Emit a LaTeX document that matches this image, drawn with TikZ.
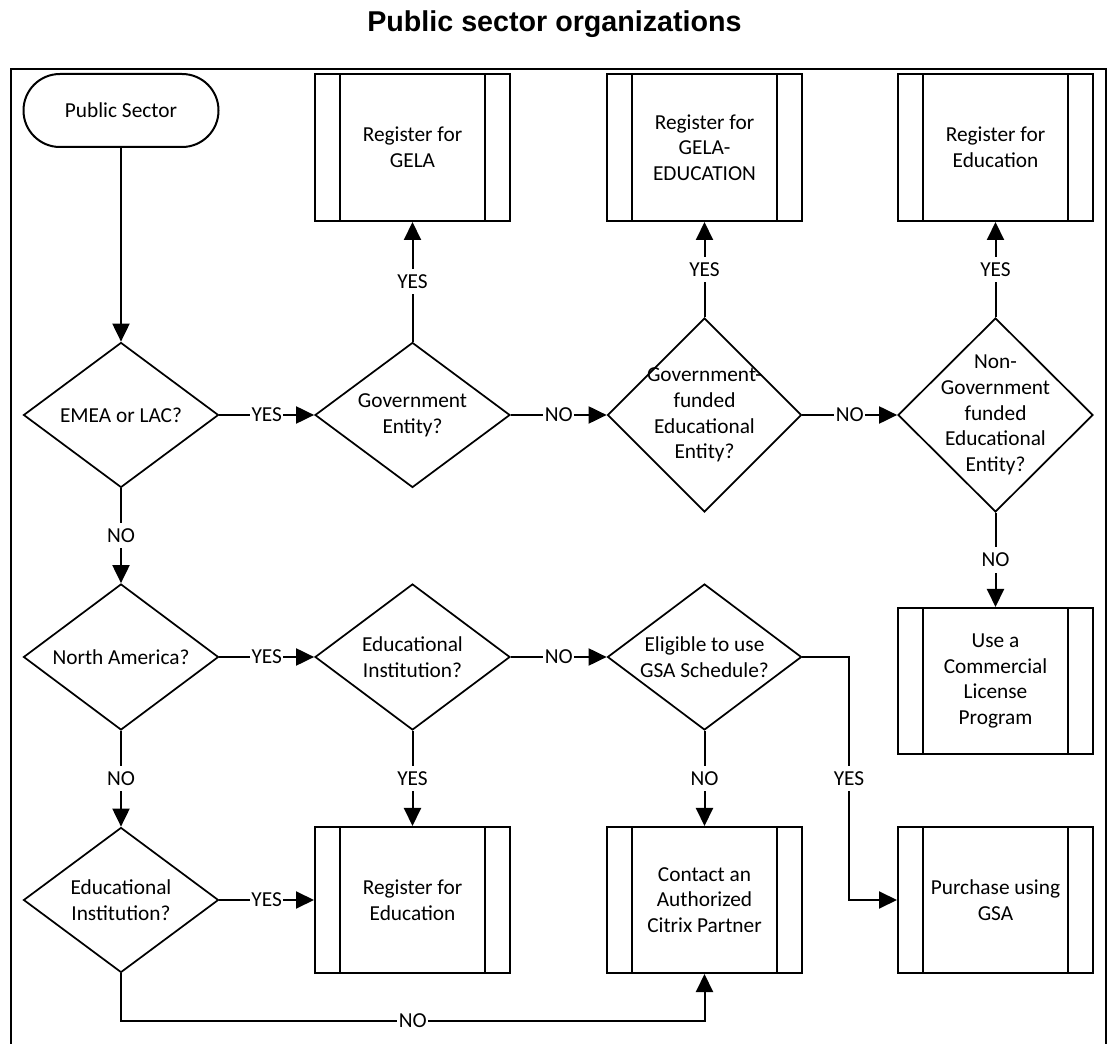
\documentclass[tikz,border=0pt]{standalone}
\usepackage{fontspec}
\setmainfont{Carlito}
\newfontfamily\titlefont{Liberation Sans}
\usetikzlibrary{shapes.geometric,arrows.meta}
\tikzset{
  procbox/.style={draw=black, line width=1.5pt, fill=white, rectangle,
    minimum width=146.25pt, minimum height=110.25pt, inner sep=0pt, align=center,
    path picture={
      \draw[line width=1.5pt]
        ([xshift=18.75pt]path picture bounding box.north west) -- ([xshift=18.75pt]path picture bounding box.south west)
        ([xshift=-18.75pt]path picture bounding box.north east) -- ([xshift=-18.75pt]path picture bounding box.south east);
    }},
  termbox/.style={draw=black, line width=1.5pt, fill=white, rectangle,
    minimum width=146.25pt, minimum height=54.75pt, rounded corners=27.3pt, inner sep=0pt, align=center},
  decbox/.style={draw=black, line width=1.3pt, fill=white, diamond, inner sep=0pt,
    minimum width=146.25pt, minimum height=108.75pt},
  dtext/.style={align=center, inner sep=0pt},
  conn/.style={line width=1.5pt, -{Triangle[length=13.5pt,width=12.75pt]}},
  lab/.style={fill=white, inner xsep=1pt, inner ysep=0pt, minimum height=19pt}
}
\begin{document}
\begin{tikzpicture}[x=0.75pt,y=-0.75pt, font=\fontsize{16}{19.3}\selectfont]
\useasboundingbox (0,0) rectangle (1108,1044);
\fill[white] (0,0) rectangle (1108,1044);

% title
\node[font=\titlefont\bfseries\fontsize{21.5}{26}\selectfont, anchor=base] (title) at (554.5,32) {Public sector organizations};

% frame
\draw[line width=1.5pt] (11,1047) -- (11,69) -- (1106,69) -- (1106,1047);

% row 1
\node[termbox] (ps) at (121,110.5) {Public Sector};
\node[procbox] (gela) at (412.5,147.5) {Register for\\GELA};
\node[procbox] (gelaedu) at (704.5,147.5) {Register for\\GELA-\\EDUCATION};
\node[procbox] (regeduA) at (995.5,147.5) {Register for\\Education};

% row 2
\node[decbox, label={[dtext]center:EMEA or LAC?}] (emea) at (121,415) {};
\node[decbox, label={[dtext]center:Government\\Entity?}] (gov) at (412.5,415) {};
\node[decbox, minimum width=145.5pt, minimum height=145.5pt,
  label={[dtext]center:Government-\\funded\\Educational\\Entity?}] (govf) at (704.5,415) {};
\node[decbox, minimum height=145.5pt,
  label={[dtext]center:Non-\\Government\\funded\\Educational\\Entity?}] (nongov) at (995.5,415) {};

% row 3
\node[decbox, minimum height=109.5pt, label={[dtext]center:North America?}] (na) at (121,657) {};
\node[decbox, minimum height=109.5pt, label={[dtext]center:Educational\\Institution?}] (eduinst) at (412.5,657) {};
\node[decbox, minimum width=145.5pt, minimum height=109.5pt, label={[dtext]center:Eligible to use\\GSA Schedule?}] (elig) at (704.5,657) {};
\node[procbox, minimum height=109.5pt] (comm) at (995.5,681) {Use a\\Commercial\\License\\Program};

% row 4
\node[decbox, label={[dtext]center:Educational\\Institution?}] (ei) at (121,900) {};
\node[procbox, minimum height=109.5pt] (regeduB) at (412.5,900) {Register for\\Education};
\node[procbox, minimum height=109.5pt] (contact) at (704.5,900) {Contact an\\Authorized\\Citrix Partner};
\node[procbox, minimum height=109.5pt] (purchase) at (995.5,900) {Purchase using\\GSA};

% connectors
\draw[conn] (ps.south) -- (emea.north);
\draw[conn] (emea.east) -- node[lab]{YES} (gov.west);
\draw[conn] (gov.north) -- node[lab]{YES} (gela.south);
\draw[conn] (gov.east) -- node[lab]{NO} (govf.west);
\draw[conn] (govf.north) -- node[lab]{YES} (gelaedu.south);
\draw[conn] (govf.east) -- node[lab]{NO} (nongov.west);
\draw[conn] (nongov.north) -- node[lab]{YES} (regeduA.south);
\draw[conn] (nongov.south) -- node[lab]{NO} (comm.north);
\draw[conn] (emea.south) -- node[lab]{NO} (na.north);
\draw[conn] (na.east) -- node[lab]{YES} (eduinst.west);
\draw[conn] (eduinst.east) -- node[lab]{NO} (elig.west);
\draw[conn] (eduinst.south) -- node[lab]{YES} (regeduB.north);
\draw[conn] (elig.south) -- node[lab]{NO} (contact.north);
\draw[conn] (na.south) -- node[lab]{NO} (ei.north);
\draw[conn] (ei.east) -- node[lab]{YES} (regeduB.west);
\coordinate (bendA) at (849,657);
\draw[conn] (elig.east) -- (bendA) -- node[lab]{YES} (bendA |- purchase.west) -- (purchase.west);
\coordinate (bendB) at (121,1021);
\draw[conn] (ei.south) -- (bendB) -- node[lab]{NO} (bendB -| contact.south) -- (contact.south);
\end{tikzpicture}
\end{document}
